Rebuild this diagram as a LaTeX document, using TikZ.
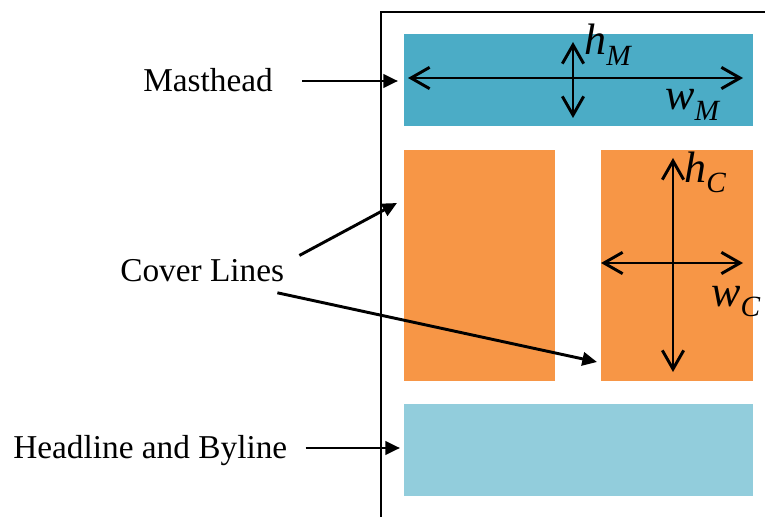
\documentclass[tikz,border=0pt]{standalone}
\usepackage{fontspec}
\setmainfont{Liberation Serif}
\usetikzlibrary{arrows.meta}
\definecolor{mastcol}{HTML}{4BACC6}
\definecolor{covercol}{HTML}{F79646}
\definecolor{headcol}{HTML}{92CDDC}
\newcommand{\dimlab}[2]{{\fontsize{33}{33}\selectfont\itshape #1}\raisebox{-8pt}{\fontsize{22}{22}\selectfont\itshape #2}}
\begin{document}
\begin{tikzpicture}[x=0.75pt,y=-0.75pt]
\tikzset{
	etiq/.style={font=\fontsize{25}{30}\selectfont, inner sep=0pt, anchor=base west},
	fleche/.style={-{Triangle[length=11pt,width=10pt]}, line width=2.2pt},
	cote/.style={{Straight Barb[length=14pt,width=16pt]}-{Straight Barb[length=14pt,width=16pt]}, line width=2.2pt},
	dimtxt/.style={inner sep=0pt, anchor=base west}
}
\useasboundingbox (0,0) rectangle (765,517);

 % la page et ses zones
  \draw[line width=1.5pt] (381,517) -- (381,12) -- (765,12);
  \fill[mastcol] (404,34) rectangle (753,126);
  \fill[covercol] (404,150) rectangle (555,381);
  \fill[covercol] (601,150) rectangle (753,381);
  \fill[headcol] (404,404) rectangle (753,496);

% les cotes
  \coordinate (mW) at (408,78);  \coordinate (mE) at (743,78);
  \coordinate (mN) at (573,42);  \coordinate (mS) at (573,118);
  \coordinate (cW) at (601,263); \coordinate (cE) at (743,263);
  \coordinate (cN) at (673,158); \coordinate (cS) at (673,372);
  \draw[cote] (mW) -- (mE);
  \draw[cote] (mN) -- (mS);
  \draw[cote] (cW) -- (cE);
  \draw[cote] (cN) -- (cS);
  \node[dimtxt] (hM) at (584,55) {\dimlab{h}{M}};
  \node[dimtxt] (wM) at (665,110) {\dimlab{w}{M}};
  \node[dimtxt] (hC) at (684,182) {\dimlab{h}{C}};
  \node[dimtxt] (wC) at (711,306) {\dimlab{w}{C}};

% du texte
  \node[etiq] (mast) at (143,92) {Masthead};
  \node[etiq] (cover) at (120,281) {Cover Lines};
  \node[etiq] (head) at (13,458) {Headline and Byline};

  \coordinate (mastTo) at (398,81);
  \coordinate (coverTo1) at (397,203);
  \coordinate (coverTo2) at (597,362);
  \coordinate (headTo) at (400,448);
  \draw[fleche] ([xshift=29*0.75pt]mast.east |- mastTo) -- (mastTo);
  \draw[fleche] ([xshift=15*0.75pt,yshift=11pt]cover.east) -- (coverTo1);
  \draw[fleche] ([xshift=-7*0.75pt,yshift=-17pt]cover.east) -- (coverTo2);
  \draw[fleche] ([xshift=18*0.75pt]head.east |- headTo) -- (headTo);
\end{tikzpicture}
\end{document}
